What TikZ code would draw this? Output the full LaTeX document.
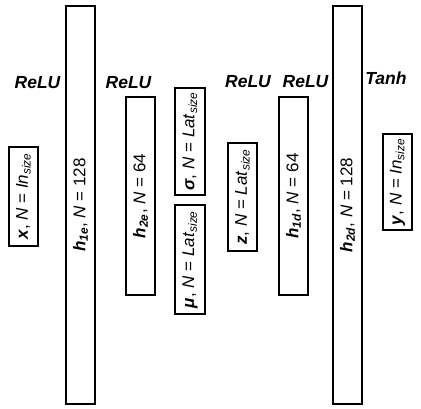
\documentclass[tikz,border=0pt]{standalone}
\usepackage{fontspec}
\setmainfont{Liberation Sans}
\begin{document}
\begin{tikzpicture}[x=1pt,y=-1pt,
  layer/.style={draw=black, line width=1.7pt, rotate=90, inner sep=0pt, font=\fontsize{17}{20}\selectfont},
  act/.style={font=\fontsize{17.5}{20}\selectfont\bfseries\itshape}]
\useasboundingbox (0,0) rectangle (421,409);
\newcommand\bi[1]{\textbf{\textit{#1}}}
\newcommand\ssub[1]{\textsubscript{#1}}
\node[layer, minimum width=99pt, minimum height=29.5pt] (x) at (23.5,196.5) {\bi{x}, \textit{N} = \textit{In}\ssub{\textit{size}}};
\node[layer, minimum width=398pt, minimum height=29.5pt] (h1e) at (80.5,205) {\bi{h}\ssub{\bi{1e}}, \textit{N} = 128};
\node[layer, minimum width=198pt, minimum height=29.5pt] (h2e) at (140.5,196) {\bi{h}\ssub{\bi{2e}}, \textit{N} = 64};
\node[layer, minimum width=107pt, minimum height=30pt] (sigma) at (190,141.5) {\bi{σ}, \textit{N} = \textit{Lat}\ssub{\textit{size}}};
\node[layer, minimum width=109pt, minimum height=30pt] (mu) at (190,259.5) {\bi{μ}, \textit{N} = \textit{Lat}\ssub{\textit{size}}};
\node[layer, minimum width=108pt, minimum height=29.5pt] (z) at (242.5,197) {\bi{z}, \textit{N} = \textit{Lat}\ssub{\textit{size}}};
\node[layer, minimum width=198pt, minimum height=29.5pt] (h1d) at (293.5,196) {\bi{h}\ssub{\bi{1d}}, \textit{N} = 64};
\node[layer, minimum width=398pt, minimum height=29.5pt] (h2d) at (347.5,205) {\bi{h}\ssub{\bi{2d}}, \textit{N} = 128};
\node[layer, minimum width=96pt, minimum height=29.5pt] (y) at (397.5,182) {\bi{y}, \textit{N} = \textit{In}\ssub{\textit{size}}};
\node[act] (a1) at (37.5,83) {ReLU};
\node[act] (a2) at (128.5,83) {ReLU};
\node[act] (a3) at (248,82) {ReLU};
\node[act] (a4) at (305.5,82) {ReLU};
\node[act] (a5) at (386,78) {Tanh};
\end{tikzpicture}
\end{document}
